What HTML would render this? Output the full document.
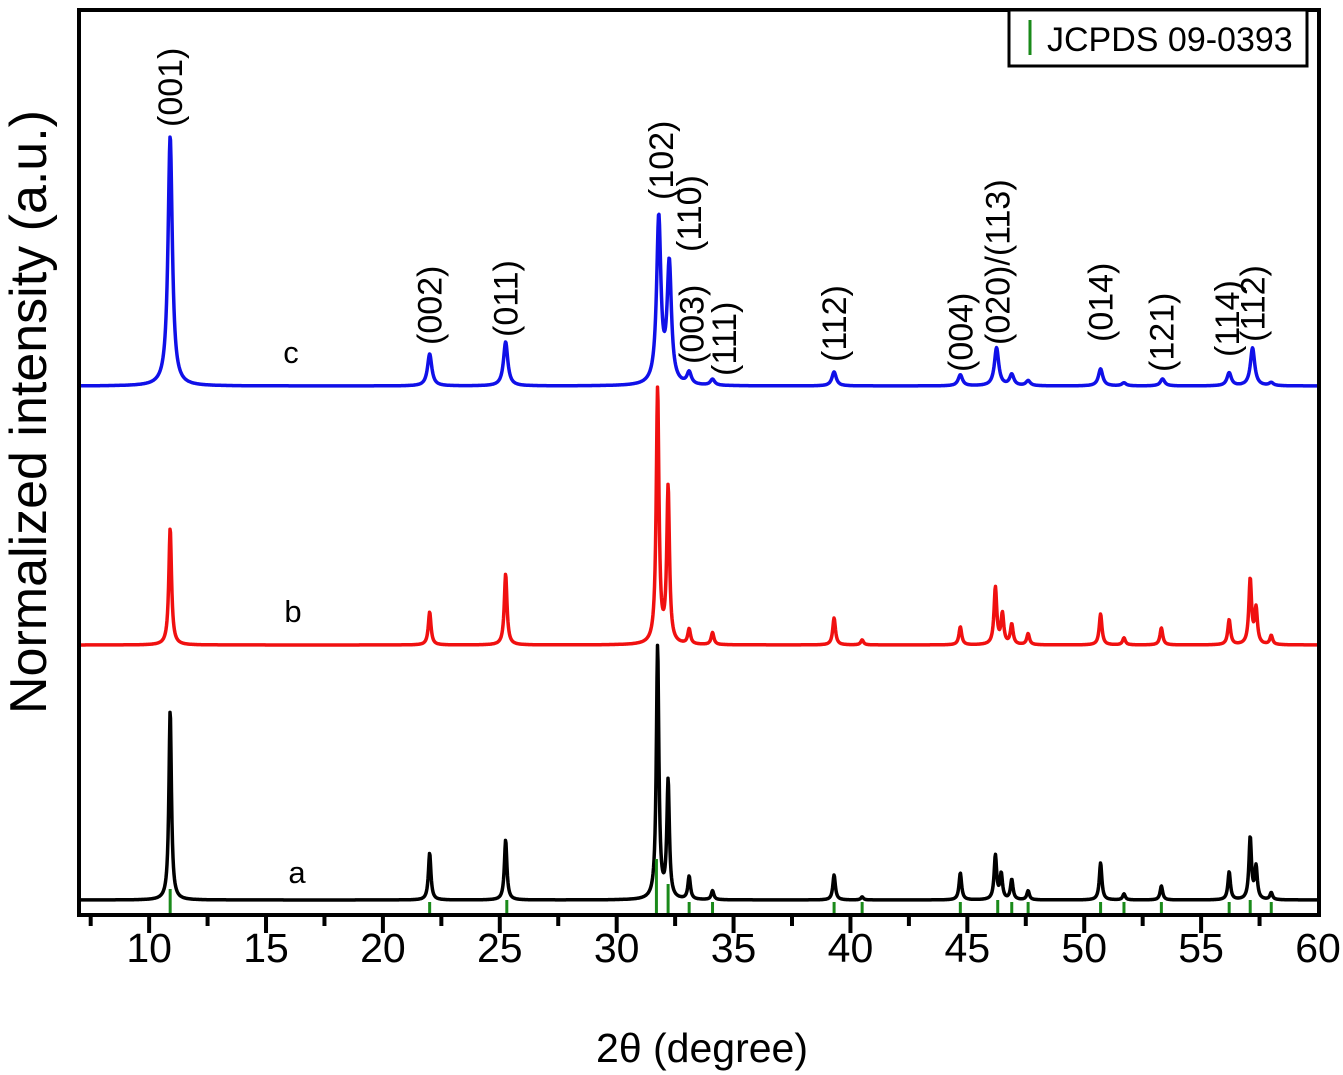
<!DOCTYPE html>
<html><head><meta charset="utf-8"><style>
html,body{margin:0;padding:0;background:#fff;}
svg{display:block;font-family:"Liberation Sans",Arial,sans-serif;}
</style></head><body>
<svg id="chart" width="1343" height="1075" viewBox="0 0 1343 1075" xmlns="http://www.w3.org/2000/svg">
<rect width="1343" height="1075" fill="#fff"/>
<g id="traces"></g>
<g id="refs"></g>
<g id="labels"></g>
<rect x="79" y="10" width="1240" height="905" fill="none" stroke="#000" stroke-width="4"/>
<g id="ticks"></g>
<text x="702" y="1062" font-size="41" text-anchor="middle">2θ (degree)</text>
<text transform="translate(46,412) rotate(-90)" font-size="52" text-anchor="middle">Normalized intensity (a.u.)</text>
<g>
<rect x="1009" y="10" width="298" height="56" fill="#fff" stroke="#000" stroke-width="3"/>
<line x1="1030" y1="20" x2="1030" y2="55" stroke="#1a8a1a" stroke-width="3"/>
<text x="1047" y="51" font-size="34">JCPDS 09-0393</text>
</g>
<text x="291" y="363" font-size="31" text-anchor="middle">c</text>
<text x="293" y="622" font-size="31" text-anchor="middle">b</text>
<text x="297" y="883" font-size="31" text-anchor="middle">a</text>
</svg>
<script>
const xTicks=[10,15,20,25,30,35,40,45,50,55,60];
const peaksC=[10.9,22.0,25.25,31.8,32.25,33.1,34.1,39.3,44.7,46.25,46.9,47.6,50.7,51.7,53.35,56.2,57.2,58.0];
const heightsC=[250,32,44,166,119,12,6,14,11,38,11,5,17,3,7,13,38,3];
const peaksB=[10.9,22.0,25.25,31.75,32.2,33.1,34.1,39.3,40.5,44.7,46.2,46.5,46.9,47.6,50.7,51.7,53.3,56.2,57.1,57.35,58.0];
const heightsB=[117,33,71,255,155,15,12,27,5,18,57,30,20,11,31,7,17,25,65,35,9];
const peaksA=[10.9,22.0,25.25,31.75,32.2,33.1,34.1,39.3,40.5,44.7,46.2,46.45,46.9,47.6,50.7,51.7,53.3,56.2,57.1,57.35,58.0];
const heightsA=[190,47,60,253,117,23,9,25,3,27,44,25,20,9,37,6,14,28,62,32,7];
const refPos=[10.9,22.0,25.3,31.7,32.2,33.1,34.1,39.3,40.5,44.7,46.3,46.9,47.6,50.7,51.7,53.3,56.2,57.1,58.0];
const refH=[25,12,14,55,30,12,12,12,12,12,14,12,12,12,12,12,12,14,12];
const hkl=["(001)","(002)","(011)","(102)","(110)","(003)","(111)","(112)","(004)","(020)/(113)","(014)","(121)","(114)","(112)"];
const hklX=[10.9,22.0,25.25,31.9,33.1,33.2,34.6,39.3,44.7,46.3,50.7,53.3,56.1,57.2];
const hklY=[127,345,337,200,252,364,376,362,372,345,342,372,357,342];

const NS="http://www.w3.org/2000/svg";
const X=v=>79+(v-7)*(1318-79)/(60-7);
function el(t,a,p){const e=document.createElementNS(NS,t);for(const k in a)e.setAttribute(k,a[k]);p.appendChild(e);return e;}
const tr=document.getElementById('traces');
function trace(pk,ht,base,w,color,name){
  let d='';
  for(let px=81;px<=1317;px+=0.5){
    const v=7+(px-79)*(53)/(1318-79);
    let y=0;
    for(let i=0;i<pk.length;i++){const t=(v-pk[i])/w;y+=ht[i]/(1+t*t);}
    d+=(d?'L':'M')+px.toFixed(1)+','+(base-y).toFixed(1);
  }
  const p=el('path',{d:d,fill:'none',stroke:color,'stroke-width':3.5,'stroke-linejoin':'round'},tr);
  
  
}
trace(peaksC,heightsC,386,0.11,'#1010e8','trace-c');
trace(peaksB,heightsB,645,0.07,'#f01010','trace-b');
trace(peaksA,heightsA,900,0.065,'#000','trace-a');

const rf=document.getElementById('refs');
refPos.forEach((v,i)=>{
  const l=el('line',{x1:X(v),x2:X(v),y1:914,y2:914-refH[i],stroke:'#1a8a1a','stroke-width':3},rf);
  
  
});

const lb=document.getElementById('labels');
hkl.forEach((s,i)=>{
  const t=el('text',{transform:`translate(${X(hklX[i])+12},${hklY[i]}) rotate(-90)`,'font-size':34},lb);
  t.textContent=s;
  
  
});

const tk=document.getElementById('ticks');
for(let v=7.5;v<60;v+=2.5){
  const major=Math.abs(v%5)<0.01;
  const l=el('line',{x1:X(v),x2:X(v),y1:915,y2:major?933:926,stroke:'#000','stroke-width':4},tk);
  
  
}
xTicks.forEach(v=>{
  const t=el('text',{x:X(v),y:962,'font-size':41,'text-anchor':'middle'},tk);
  t.textContent=v;
  
  
});
</script>
</body></html>
